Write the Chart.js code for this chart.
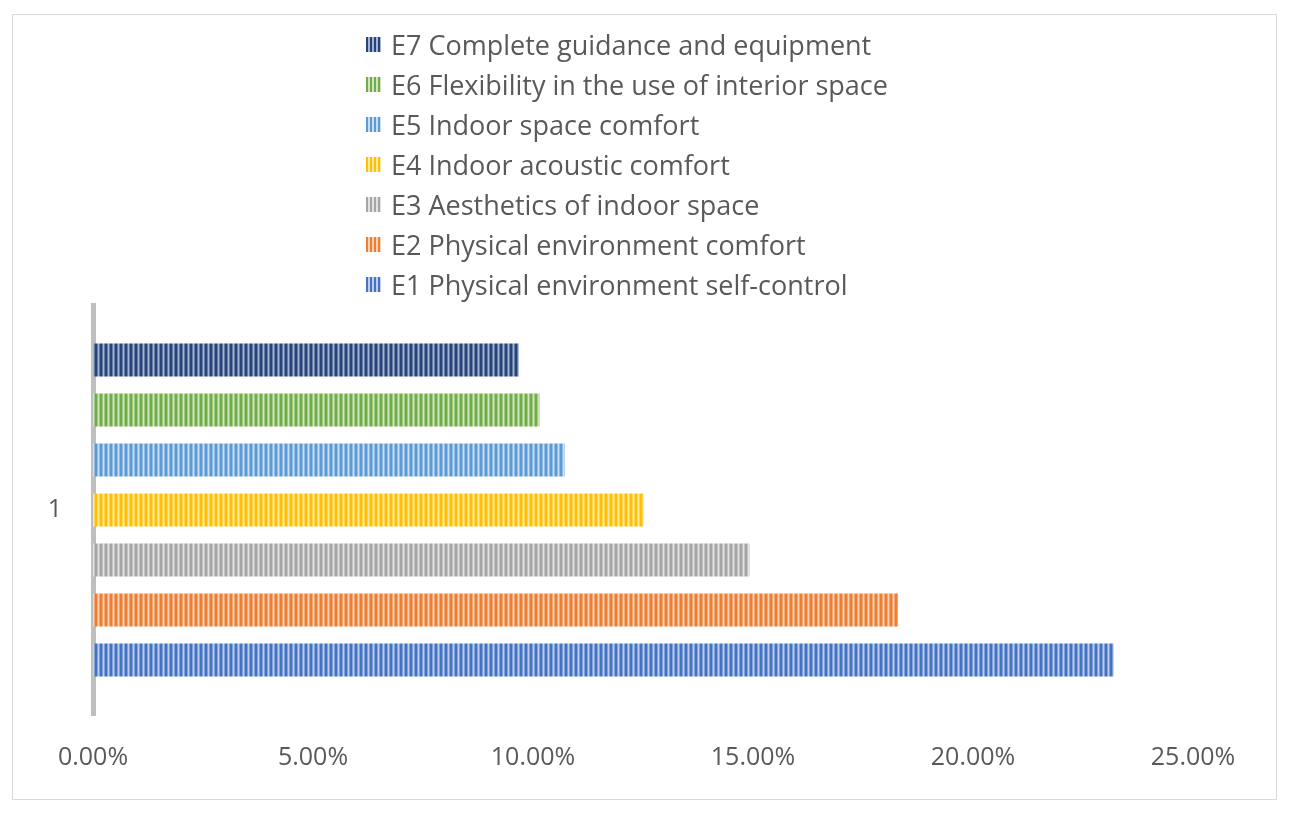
<!DOCTYPE html>
<html>
<head>
<meta charset="utf-8">
<script src="https://cdn.jsdelivr.net/npm/chart.js@4"></script>
<style>
  body { margin: 0; background: #fff; }
  #wrap { position: relative; width: 1291px; height: 814px; }
  #frame { position: absolute; left: 12px; top: 14px; width: 1265px; height: 786px; border: 1.5px solid #D9D9D9; box-sizing: border-box; }
  #legend { position: absolute; left: 366px; top: 24px; font-family: "Open Sans"; font-size: 27px; color: #595959; }
  .item { height: 40px; display: flex; align-items: center; white-space: nowrap; }
  .sw { width: 15px; height: 15px; margin-right: 10px; }
  canvas { position: absolute; left: 0; top: 0; }
</style>
</head>
<body>
<div id="wrap">
  <div id="frame"></div>
  <canvas id="chart" width="1291" height="814"></canvas>
  <div id="legend"></div>
</div>
<script>
// data (percent)
const categories = ["1"];
const seriesNames = [
  "E7 Complete guidance and equipment",
  "E6 Flexibility in the use of interior space",
  "E5 Indoor space comfort",
  "E4 Indoor acoustic comfort",
  "E3 Aesthetics of indoor space",
  "E2 Physical environment comfort",
  "E1 Physical environment self-control",
];
const seriesValues = [9.68, 10.15, 10.72, 12.52, 14.92, 18.3, 23.2];
const baseColors = ["#264478", "#70AD47", "#5B9BD5", "#FFC000", "#A5A5A5", "#ED7D31", "#4472C4"];
const lightColors = ["#A3B4D6", "#CFE5C0", "#C9DEF2", "#FFE9A6", "#E2E2E2", "#F9D3B8", "#BDCDEB"];

// vertical stripe fill like the office pattern
function stripes(base, light) {
  const c = document.createElement("canvas");
  c.width = 5;
  c.height = 1;
  const g = c.getContext("2d");
  g.fillStyle = base;
  g.fillRect(0, 0, 5, 1);
  g.globalAlpha = 0.5;
  g.fillStyle = light;
  g.fillRect(2, 0, 3, 1);
  g.globalAlpha = 1;
  g.fillRect(3, 0, 1, 1);
  return g.createPattern(c, "repeat");
}

// legend, one column like the original
const legend = document.getElementById("legend");
seriesNames.forEach((name, i) => {
  const row = document.createElement("div");
  row.className = "item";
  const sw = document.createElement("span");
  sw.className = "sw";
  sw.style.background =
    "repeating-linear-gradient(90deg," + baseColors[i] + " 0 2px," + lightColors[i] + " 2px 4px)";
  row.appendChild(sw);
  row.appendChild(document.createTextNode(name));
  legend.appendChild(row);
});

Chart.defaults.font.family = "Open Sans";
Chart.defaults.color = "#595959";

const ctx = document.getElementById("chart").getContext("2d");
const chart = new Chart(ctx, {
  type: "bar",
  data: {
    labels: categories,
    datasets: seriesNames.map((name, i) => ({
      label: name,
      data: [seriesValues[i]],
      backgroundColor: stripes(baseColors[i], lightColors[i]),
      borderWidth: 0,
      barPercentage: 0.66,
      categoryPercentage: 0.854,
    })),
  },
  options: {
    indexAxis: "y",
    responsive: false,
    animation: false,
    layout: { padding: { top: 305, right: 98, left: 0, bottom: 0 } },
    plugins: {
      legend: { display: false },
      tooltip: { enabled: false },
    },
    scales: {
      x: {
        min: 0,
        max: 25,
        grid: { display: false, drawTicks: false },
        border: { display: false },
        ticks: {
          stepSize: 5,
          padding: 28,
          font: { size: 25 },
          callback: (v) => v.toFixed(2) + "%",
        },
        afterFit: (scale) => { scale.height = 99; },
      },
      y: {
        grid: { display: false, drawTicks: false },
        border: { display: true, color: "#BFBFBF", width: 5 },
        ticks: { padding: 31, font: { size: 25 } },
        afterFit: (scale) => { scale.width = 93; },
      },
    },
  },
});
</script>
</body>
</html>
